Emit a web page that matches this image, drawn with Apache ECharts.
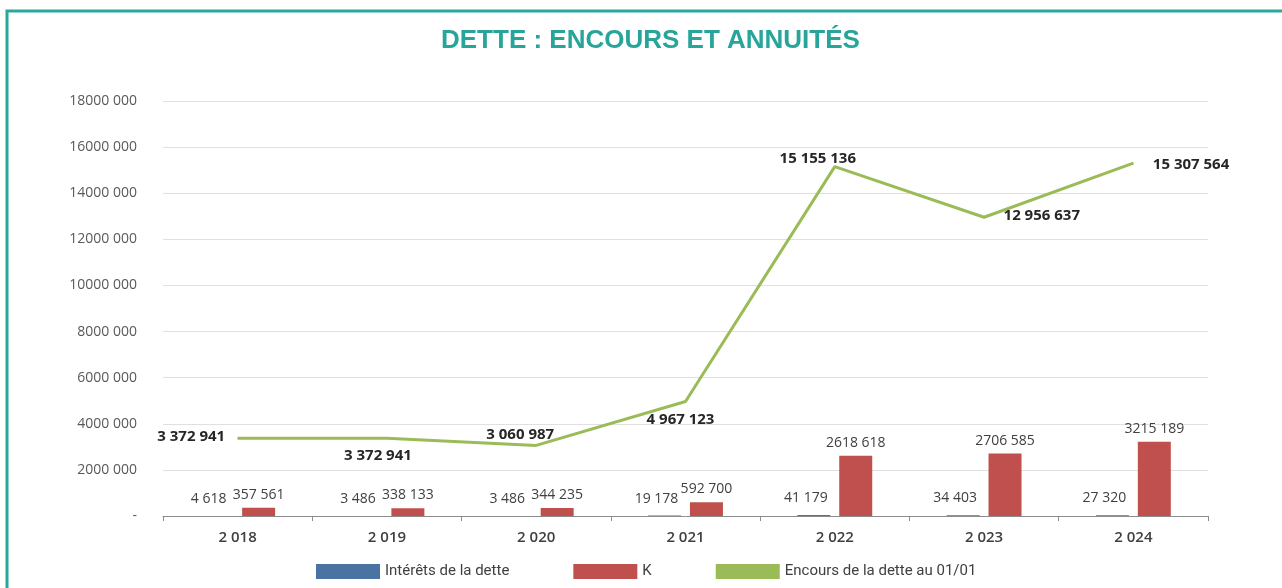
<!DOCTYPE html>
<html>
<head>
<meta charset="utf-8">
<script src="https://cdn.jsdelivr.net/npm/echarts@6/dist/echarts.min.js"></script>
<style>
html,body{margin:0;padding:0;background:#fff;}
#chart{width:1282px;height:588px;}
</style>
</head>
<body>
<div id="chart"></div>
<script>
const categories = ['2 018', '2 019', '2 020', '2 021', '2 022', '2 023', '2 024'];
const interets = [4618, 3486, 3486, 19178, 41179, 34403, 27320];
const capital = [357561, 338133, 344235, 592700, 2618618, 2706585, 3215189];
const encours = [3372941, 3372941, 3060987, 4967123, 15155136, 12956637, 15307564];
const seriesNames = ['Intérêts de la dette', 'K', 'Encours de la dette au 01/01'];
const titleText = 'DETTE : ENCOURS ET ANNUITÉS';

function pad3(n){ return String(n).padStart(3, '0'); }
// Excel-like: only last thousand group separated
function fmtShort(v){
  if (v === 0) return '-';
  if (v < 1000) return String(v);
  return Math.floor(v / 1000) + ' ' + pad3(v % 1000);
}
function fmtFull(v){
  return String(v).replace(/\B(?=(\d{3})+(?!\d))/g, ' ');
}

const lineLabelCfg = [
  {position: 'left', distance: 12, offset: [0, -2]},
  {position: 'bottom', distance: 9, offset: [-9, 0]},
  {position: 'top', distance: 3, offset: [-16, 0]},
  {position: 'bottom', distance: 10, offset: [-5, 0]},
  {position: 'top', distance: 0, offset: [-17, 0]},
  {position: 'right', distance: 19, offset: [0, -2]},
  {position: 'right', distance: 19, offset: [0, 2]}
];

const chart = echarts.init(document.getElementById('chart'), null, {renderer: 'canvas'});
const option = {
  animation: false,
  backgroundColor: '#ffffff',
  title: {
    text: titleText,
    left: 436,
    top: 23,
    textStyle: {color: '#27A59A', fontSize: 26, fontWeight: 'bold', fontFamily: 'Liberation Sans'}
  },
  graphic: [{
    type: 'rect',
    shape: {x: 7, y: 11, width: 1300, height: 620},
    style: {fill: 'none', stroke: '#2BA89C', lineWidth: 3},
    silent: true
  }],
  legend: {
    left: 311,
    top: 559,
    itemWidth: 64,
    itemHeight: 15,
    itemGap: 64,
    itemStyle: {borderWidth: 0},
    textStyle: {fontFamily: 'Roboto', fontSize: 15, color: '#404040'},
    data: [
      {name: seriesNames[0], icon: 'rect'},
      {name: seriesNames[1], icon: 'rect'},
      {name: seriesNames[2], icon: 'rect'}
    ]
  },
  grid: {left: 163, right: 74, top: 101, bottom: 72, containLabel: false},
  xAxis: {
    type: 'category',
    data: categories,
    axisLine: {lineStyle: {color: '#8c8c8c', width: 1}},
    axisTick: {show: true, alignWithLabel: false, length: 5, lineStyle: {color: '#8c8c8c'}},
    axisLabel: {margin: 14, fontFamily: 'Open Sans', fontSize: 15, fontWeight: 600, color: '#404040'},
    splitLine: {show: false}
  },
  yAxis: {
    type: 'value',
    min: 0,
    max: 18000000,
    interval: 2000000,
    axisLine: {show: false},
    axisTick: {show: false},
    axisLabel: {margin: 26, fontFamily: 'Open Sans', fontSize: 14, color: '#595959', formatter: fmtShort},
    splitLine: {lineStyle: {color: '#e0e0e0', width: 1}}
  },
  series: [
    {
      name: seriesNames[0],
      type: 'bar',
      data: interets,
      barWidth: 33,
      barGap: '27%',
      itemStyle: {color: '#4A72A3'},
      label: {show: true, position: 'top', distance: 10, offset: [-8, 0],
        fontFamily: 'Open Sans', fontSize: 14, color: '#404040', formatter: p => fmtShort(p.value)}
    },
    {
      name: seriesNames[1],
      type: 'bar',
      data: capital,
      barWidth: 33,
      barGap: '27%',
      itemStyle: {color: '#C0504D'},
      label: {show: true, position: 'top', distance: 6,
        fontFamily: 'Open Sans', fontSize: 14, color: '#404040', formatter: p => fmtShort(p.value)}
    },
    {
      name: seriesNames[2],
      type: 'line',
      data: encours.map((v, i) => ({value: v, label: lineLabelCfg[i]})),
      symbol: 'circle',
      symbolSize: 1,
      showSymbol: true,
      itemStyle: {color: '#9BBB59'},
      lineStyle: {color: '#9BBB59', width: 3},
      z: 5,
      label: {show: true, fontFamily: 'Open Sans', fontSize: 15, fontWeight: 'bold', color: '#262626',
        formatter: p => fmtFull(p.value)}
    }
  ]
};
chart.setOption(option);
</script>
</body>
</html>
